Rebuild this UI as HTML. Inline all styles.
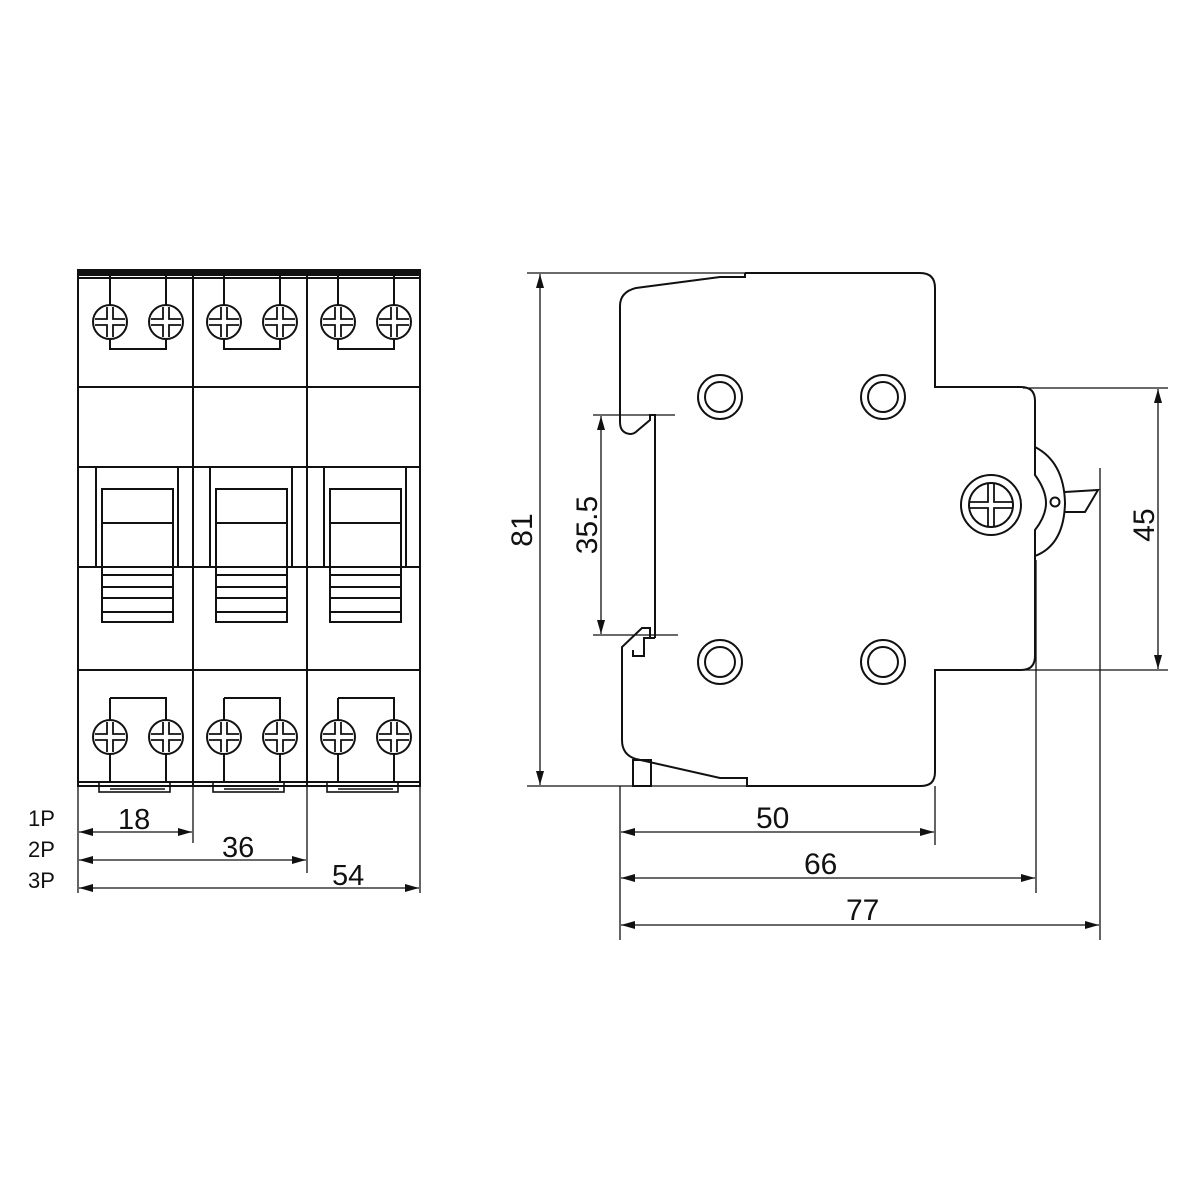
<!DOCTYPE html>
<html><head><meta charset="utf-8"><style>
html,body{margin:0;padding:0;background:#fff;}
svg{display:block;}
text{font-family:"Liberation Sans","DejaVu Sans",sans-serif;fill:#111;}
</style></head><body>
<svg width="1200" height="1200" viewBox="0 0 1200 1200" xmlns="http://www.w3.org/2000/svg">
<defs>
<marker id="a" viewBox="0 0 14 8" refX="14" refY="4" markerWidth="14" markerHeight="8" markerUnits="userSpaceOnUse" orient="auto-start-reverse">
<path d="M0,0 L14,4 L0,8 Z" fill="#111"/></marker>
<g id="scr"><circle r="17" fill="#fff" stroke="#111" stroke-width="2"/><path d="M-15,-3H-3V-15 M3,-15V-3H15 M15,3H3V15 M-3,15V3H-15" fill="none" stroke="#111" stroke-width="1.8"/></g>
<g id="pole" fill="none" stroke="#111" stroke-width="2">
<path d="M32,275V349H88V275"/>
<path d="M32,698H88V782 M32,698V782"/>
<path d="M18,467V567 M100,467V567"/>
<rect x="24" y="489" width="71" height="133"/>
<path d="M24,523H95 M24,575H95 M24,587H95 M24,598H95 M24,612H95"/>
<rect x="21" y="782" width="71" height="10" stroke-width="1.6"/>
<path d="M32,789H87" stroke-width="1.6"/>
</g>
</defs>
<g fill="none" stroke="#111" stroke-width="2">
<rect x="78" y="272" width="342" height="514"/>
<path d="M78,275H420 M78,278H420" />
<rect x="78" y="270" width="342" height="4" fill="#111"/>
<path d="M193,272V786 M307,272V786"/>
<path d="M78,387H420 M78,467H420 M78,567H420 M78,670H420 M78,782H420"/>
</g>
<use href="#pole" x="78"/><use href="#pole" x="192"/><use href="#pole" x="306"/>
<use href="#scr" x="110" y="322"/><use href="#scr" x="166" y="322"/>
<use href="#scr" x="224" y="322"/><use href="#scr" x="280" y="322"/>
<use href="#scr" x="338" y="322"/><use href="#scr" x="394" y="322"/>
<use href="#scr" x="110" y="737"/><use href="#scr" x="166" y="737"/>
<use href="#scr" x="224" y="737"/><use href="#scr" x="280" y="737"/>
<use href="#scr" x="338" y="737"/><use href="#scr" x="394" y="737"/>
<g fill="none" stroke="#111" stroke-width="1.3">
<path d="M78,786V893 M193,786V843 M307,786V873 M420,786V893"/>
<path d="M79,832H192" marker-start="url(#a)" marker-end="url(#a)"/>
<path d="M79,860H306" marker-start="url(#a)" marker-end="url(#a)"/>
<path d="M79,888H419" marker-start="url(#a)" marker-end="url(#a)"/>
</g>
<g font-size="29">
<text x="118" y="829">18</text>
<text x="222" y="857">36</text>
<text x="332" y="885">54</text>
<text x="28" y="826" font-size="22">1P</text>
<text x="28" y="857" font-size="22">2P</text>
<text x="28" y="888" font-size="22">3P</text>
</g>
<g fill="none" stroke="#111" stroke-width="2">
<path d="M745,273H920Q935,273 935,288V387H1021Q1035,387 1035,401V447 M1035,556V656Q1035,670 1021,670H935V772Q935,786 921,786H747V778H720L636,759Q622,755 622,740V656 L622,647 L642,628H650V638H644V656H633V650"/>
<path d="M745,273V277H720L636,288Q620,292 620,306V422Q620,433 630,434Q634,434 637,431L650,420V415H655V638 M650,638H655"/>
<path d="M1035,447Q1064,462 1065,503Q1064,545 1035,556"/>
<path d="M1035,447V475Q1046,490 1046,503Q1046,516 1035,530V556"/>
<circle cx="1055" cy="502" r="4.5"/>
<path d="M1065,492L1098,490L1085,512H1065"/>
<rect x="633" y="760" width="18" height="26"/>
<circle cx="720" cy="397" r="22"/><circle cx="720" cy="397" r="15"/>
<circle cx="883" cy="397" r="22"/><circle cx="883" cy="397" r="15"/>
<circle cx="720" cy="662" r="22"/><circle cx="720" cy="662" r="15"/>
<circle cx="883" cy="662" r="22"/><circle cx="883" cy="662" r="15"/>
<circle cx="991" cy="505" r="30"/><circle cx="991" cy="505" r="22"/>
<path d="M970,502H988V483 M994,483V502H1012 M1012,508H994V527 M988,527V508H970" stroke-width="1.8"/>
</g>
<g fill="none" stroke="#111" stroke-width="1.3">
<path d="M527,273H745 M527,786H747 M593,415H675 M593,635H678 M1023,388H1168 M1023,670H1168"/>
<path d="M620,786V940 M935,786V845 M1036,560V893 M1100,468V940"/>
<path d="M540,274V785" marker-start="url(#a)" marker-end="url(#a)"/>
<path d="M601,416V634" marker-start="url(#a)" marker-end="url(#a)"/>
<path d="M1158,389V669" marker-start="url(#a)" marker-end="url(#a)"/>
<path d="M621,832H934" marker-start="url(#a)" marker-end="url(#a)"/>
<path d="M621,878H1035" marker-start="url(#a)" marker-end="url(#a)"/>
<path d="M621,925H1099" marker-start="url(#a)" marker-end="url(#a)"/>
</g>
<g font-size="30">
<text x="756" y="828">50</text>
<text x="804" y="874">66</text>
<text x="846" y="920">77</text>
<text transform="translate(532,530) rotate(-90)" text-anchor="middle">81</text>
<text transform="translate(597,525) rotate(-90)" text-anchor="middle">35.5</text>
<text transform="translate(1154,525) rotate(-90)" text-anchor="middle">45</text>
</g>
</svg>
</body></html>
